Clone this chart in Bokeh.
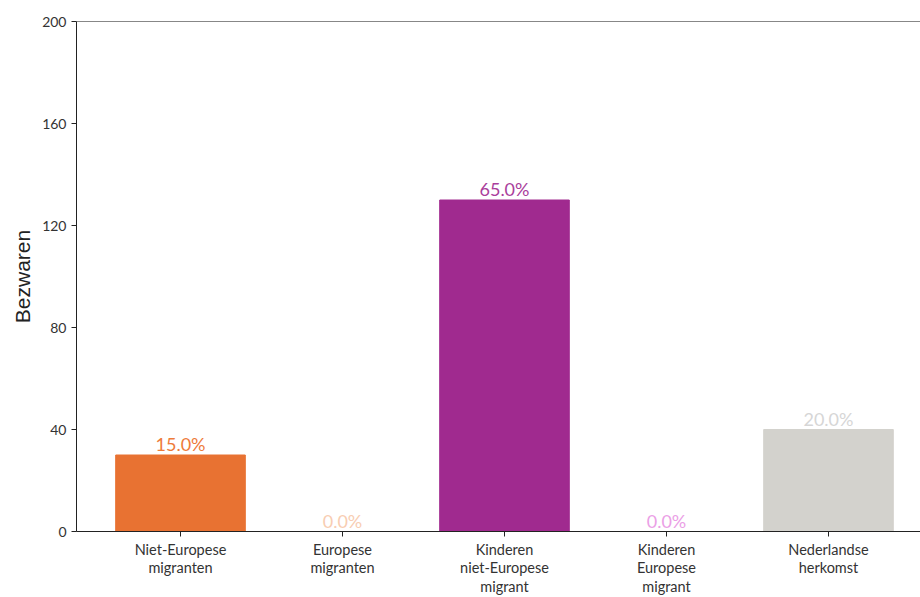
from bokeh.plotting import figure
from bokeh.models import FixedTicker, ColumnDataSource, Span, Range1d
from bokeh.core.properties import value
from bokeh.embed import file_html
from bokeh.resources import INLINE

categories = ["Niet-Europese\nmigranten", "Europese\nmigranten", "Kinderen\nniet-Europese\nmigrant",
              "Kinderen\nEuropese\nmigrant", "Nederlandse\nherkomst"]
values = [30, 0, 130, 0, 40]
pct_labels = ["15.0%", "0.0%", "65.0%", "0.0%", "20.0%"]
bar_colors = ["#E87232", "#F6C2A2", "#A02A8F", "#EFA3E6", "#D3D2CD"]
label_colors = ["#EE7B3A", "#F8CDB2", "#AA3E9C", "#EBA0E6", "#D6D6D6"]
y_ticks = [0, 40, 80, 120, 160, 200]

xs = list(range(len(categories)))
src = ColumnDataSource(dict(x=xs, top=values, color=bar_colors, lab=pct_labels, lcolor=label_colors))

FONT = "Lato"
p = figure(width=920, height=597, output_backend="svg", toolbar_location=None,
           x_range=Range1d(-0.642, 4.568), y_range=Range1d(0, 200),
           min_border_left=76, min_border_right=0, min_border_top=21, min_border_bottom=0)
p.frame_width = 844
p.frame_height = 510
p.vbar(x="x", top="top", width=0.8, color="color", source=src)
p.text(x="x", y="top", text="lab", text_color="lcolor", source=src,
       text_align="center", text_baseline="bottom", y_offset=0,
       text_font=value(FONT), text_font_size="18px")

p.grid.visible = False
p.outline_line_color = None
p.add_layout(Span(location=200, dimension="width", line_color="#111111", line_width=1))

p.xaxis.ticker = FixedTicker(ticks=xs)
p.xaxis.major_label_overrides = {i: c for i, c in enumerate(categories)}
p.yaxis.ticker = FixedTicker(ticks=y_ticks)
for ax in [p.xaxis, p.yaxis]:
    ax.minor_tick_line_color = None
    ax.major_tick_in = 0
    ax.major_tick_out = 5
    ax.axis_line_color = "#222222"
    ax.major_tick_line_color = "#222222"
    ax.major_label_text_font = FONT
    ax.major_label_text_font_size = "14.5px"
    ax.major_label_text_color = "#333333"
    ax.major_label_text_line_height = 1.1
p.yaxis.major_label_text_font_size = "14px"
p.xaxis.major_label_standoff = 4
p.yaxis.axis_label = "Bezwaren"
p.yaxis.axis_label_text_font = "Liberation Sans"
p.yaxis.axis_label_text_font_style = "normal"
p.yaxis.axis_label_text_font_size = "21px"
p.yaxis.axis_label_text_color = "#222222"
p.yaxis.axis_label_standoff = 5

open("out.html", "w").write(file_html(p, INLINE))
